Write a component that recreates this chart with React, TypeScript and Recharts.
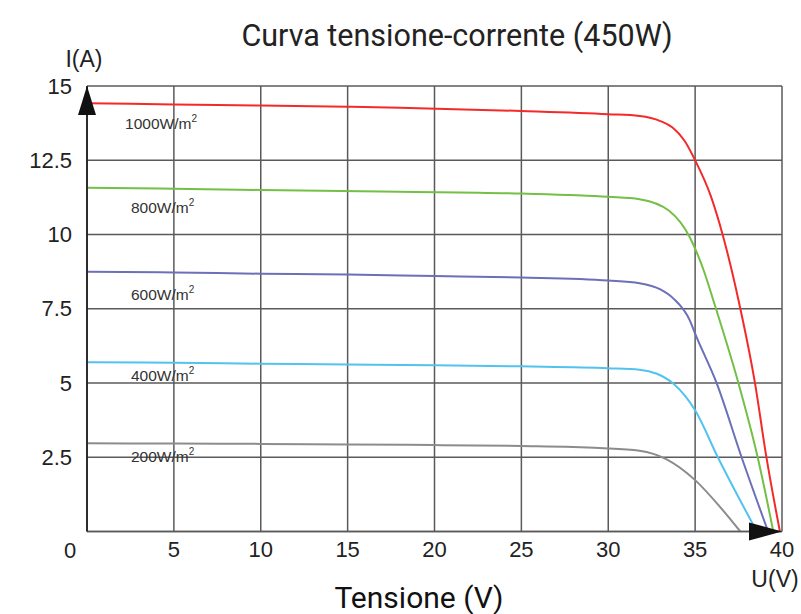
import React from 'react'
import { LineChart, Line, XAxis, YAxis, CartesianGrid, ReferenceDot } from 'recharts'

// tensione U (V), corrente I (A)
const U_TICKS = [0, 5, 10, 15, 20, 25, 30, 35, 40]
const I_TICKS = [0, 2.5, 5, 7.5, 10, 12.5, 15]

const curve1000: [number, number][] = [
  [0, 14.42], [5, 14.38], [10, 14.34], [15, 14.3], [18, 14.27], [25, 14.16], [30, 14.05],
  [31.8, 13.99], [33, 13.82], [33.7, 13.6], [34.4, 13.15], [35, 12.5], [35.9, 11.3],
  [36.6, 9.96], [37.5, 7.78], [38.45, 4.98], [39.1, 2.51], [39.88, 0],
]
const curve800: [number, number][] = [
  [0, 11.57], [5, 11.54], [10, 11.5], [18, 11.44], [25, 11.38], [30, 11.27], [31.8, 11.19],
  [33.5, 10.8], [34.7, 9.9], [35.5, 8.78], [36.05, 7.78], [37.5, 4.98], [38.6, 2.5], [39.5, 0],
]
const curve600: [number, number][] = [
  [0, 8.75], [5, 8.72], [10, 8.68], [15, 8.65], [20, 8.6], [25, 8.55], [30, 8.45], [31.8, 8.36],
  [33, 8.15], [33.74, 7.85], [34.7, 7.1], [35, 6.66], [36.25, 4.98], [37.67, 2.51], [39.2, 0],
]
const curve400: [number, number][] = [
  [0, 5.7], [5, 5.68], [10, 5.65], [15, 5.62], [20, 5.6], [25, 5.56], [30, 5.5], [31.8, 5.45],
  [32.8, 5.31], [33.74, 4.98], [35, 4.08], [36.3, 2.51], [37.58, 1.06], [38.55, 0],
]
const curve200: [number, number][] = [
  [0, 2.97], [5, 2.96], [10, 2.95], [15, 2.93], [20, 2.91], [25, 2.88], [29.5, 2.81],
  [31.8, 2.72], [33.36, 2.43], [35, 1.73], [36.43, 0.83], [37.6, 0],
]

const LABELS = ['1000W/m', '800W/m', '600W/m', '400W/m', '200W/m']

const toRows = (c: [number, number][]) => c.map(([u, i]) => ({ u, i }))

const series = [
  { name: LABELS[0], data: toRows(curve1000), color: '#f42a2a', lx: 2.19, ly: 13.55 },
  { name: LABELS[1], data: toRows(curve800), color: '#74bf46', lx: 2.53, ly: 10.74 },
  { name: LABELS[2], data: toRows(curve600), color: '#6b70b8', lx: 2.53, ly: 7.78 },
  { name: LABELS[3], data: toRows(curve400), color: '#52c3ee', lx: 2.53, ly: 5.06 },
  { name: LABELS[4], data: toRows(curve200), color: '#8e8b8b', lx: 2.53, ly: 2.35 },
]

const sans = '"Liberation Sans", Arial, sans-serif'
const tickFont = { fontFamily: sans, fontSize: 22, fill: '#222' }

function XTick(props: any) {
  const { x, y, payload } = props
  if (payload.value === 0) return <g />
  return (
    <text x={x} y={y} dy="0.71em" textAnchor="middle" {...tickFont}>
      {payload.value}
    </text>
  )
}

function YTick(props: any) {
  const { x, y, payload } = props
  if (payload.value === 0) {
    return (
      <text x={x - 2} y={y + 19} dy="0.35em" textAnchor="middle" {...tickFont}>
        0
      </text>
    )
  }
  return (
    <text x={x} y={y} dy="0.35em" textAnchor="end" {...tickFont}>
      {payload.value}
    </text>
  )
}

export default function App() {
  return (
    <div style={{ position: 'absolute', left: 0, top: 0, width: 801, height: 614, background: '#fff' }}>
      <LineChart
        width={801}
        height={614}
        margin={{ top: 86, right: 19, bottom: 52.5, left: 27 }}
      >
        <CartesianGrid stroke="#5a5a5a" strokeWidth={1.5} />
        <XAxis
          type="number"
          dataKey="u"
          domain={[0, 40]}
          ticks={U_TICKS}
          allowDataOverflow
          height={30}
          tickLine={false}
          tickSize={0}
          tickMargin={10}
          axisLine={{ stroke: '#5a5a5a', strokeWidth: 1.5 }}
          tick={<XTick />}
          interval={0}
        />
        <YAxis
          type="number"
          domain={[0, 15]}
          ticks={I_TICKS}
          allowDataOverflow
          width={60}
          tickLine={false}
          tickSize={0}
          tickMargin={15}
          axisLine={{ stroke: '#111', strokeWidth: 1.5 }}
          tick={<YTick />}
          interval={0}
        />
        {series.map(s => (
          <Line
            key={s.name}
            data={s.data}
            dataKey="i"
            type="monotone"
            stroke={s.color}
            strokeWidth={2}
            dot={false}
            activeDot={false}
            isAnimationActive={false}
          />
        ))}
        {series.map(s => (
          <ReferenceDot
            key={'l' + s.name}
            x={s.lx}
            y={s.ly}
            shape={(p: any) => (
              <text x={p.cx} y={p.cy} fontFamily={sans} fontSize={15.5} fill="#333">
                {s.name}
                <tspan fontSize={10} dy={-7}>2</tspan>
              </text>
            )}
          />
        ))}
        <ReferenceDot
          x={0}
          y={15}
          shape={(p: any) => (
            <polygon
              points={`${p.cx},${p.cy} ${p.cx - 9},${p.cy + 29} ${p.cx + 9},${p.cy + 29}`}
              fill="#111"
            />
          )}
        />
        <ReferenceDot
          x={40}
          y={0}
          shape={(p: any) => (
            <polygon
              points={`${p.cx},${p.cy} ${p.cx - 33},${p.cy - 9} ${p.cx - 33},${p.cy + 9}`}
              fill="#111"
            />
          )}
        />
      </LineChart>
      <svg
        width={801}
        height={614}
        style={{ position: 'absolute', left: 0, top: 0, pointerEvents: 'none' }}
      >
        <text x={457} y={46} textAnchor="middle" fontFamily="Roboto, sans-serif" fontSize={30.5} fill="#222">
          Curva tensione-corrente (450W)
        </text>
        <text x={419} y={608} textAnchor="middle" fontFamily="Roboto, sans-serif" fontSize={30} fill="#111">
          Tensione (V)
        </text>
        <text x={84} y={67} textAnchor="middle" fontFamily={sans} fontSize={23} fill="#222">
          I(A)
        </text>
        <text x={775} y={587} textAnchor="middle" fontFamily={sans} fontSize={23} fill="#222">
          U(V)
        </text>
      </svg>
    </div>
  )
}
